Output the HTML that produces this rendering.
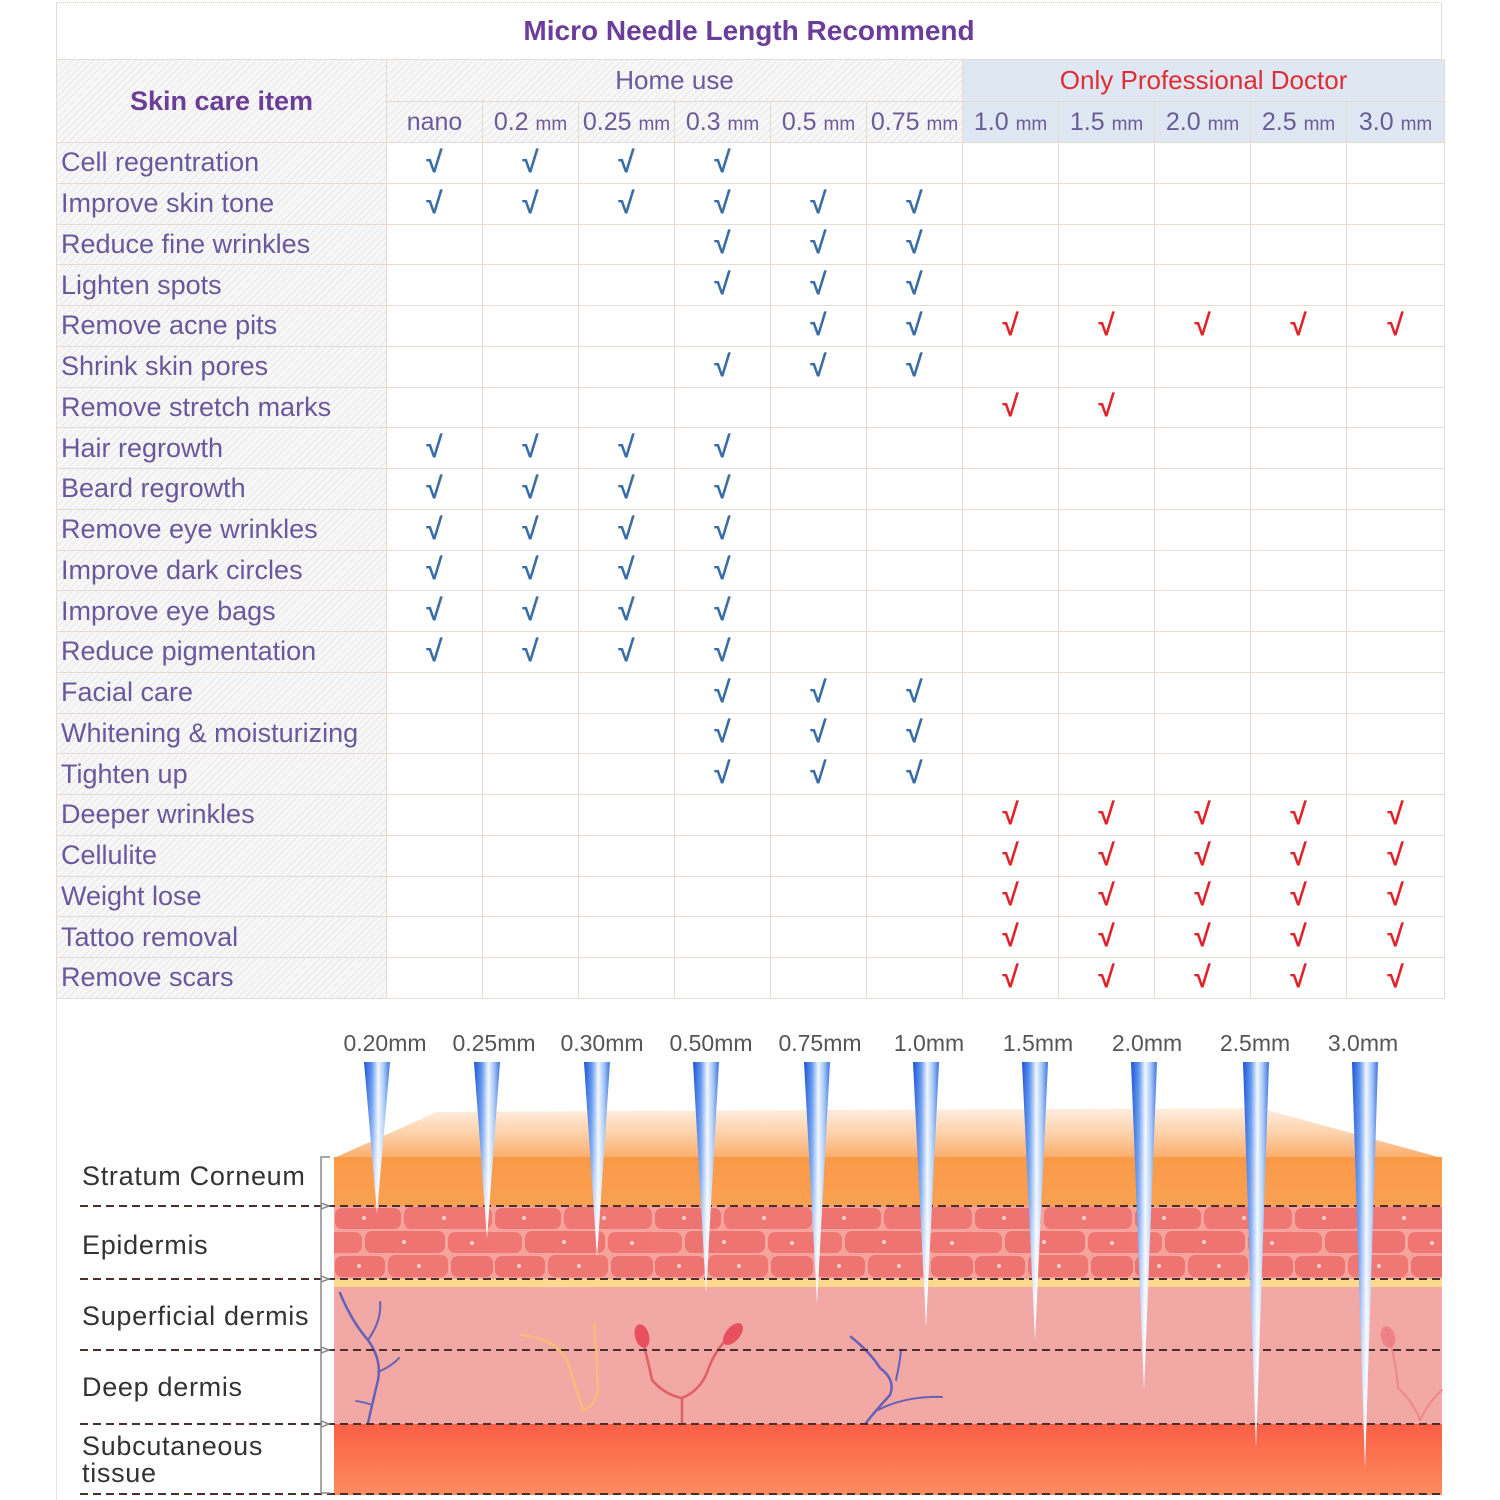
<!DOCTYPE html>
<html><head><meta charset="utf-8">
<style>
html,body{margin:0;padding:0;}
body{width:1500px;height:1500px;position:relative;overflow:hidden;background:#fff;font-family:"Liberation Sans",Arial,sans-serif;}
#title{position:absolute;left:56px;top:2px;width:1386px;height:57px;border-top:1px dotted #ddd0c4;border-left:1px solid #e6dbd2;border-right:1px solid #e6dbd2;text-align:center;line-height:56px;font-weight:bold;font-size:28px;color:#6a3d9a;box-sizing:border-box;}
table{position:absolute;left:56px;top:59px;width:1388px;border-collapse:collapse;table-layout:fixed;}
td{border:1px solid #e8dace;padding:0;text-align:center;vertical-align:middle;white-space:nowrap;overflow:hidden;}
.h{background-color:#f7f7f7;background-image:repeating-linear-gradient(135deg,#e9e9e9 0 1px,transparent 1px 5px);}
.p{background:#dfe8f2;}
.l{text-align:left;padding-left:4px;font-size:27px;color:#6a589c;}
.sk{font-size:27px;font-weight:bold;color:#6b3d98;}
.hu{font-size:26px;color:#6a5a9c;}
.pd{font-size:26px;color:#df2c35;}
.n{font-size:25px;color:#6a5a9c;}
.n small{font-size:19px;}
tr.d{height:40.76px;}
.b,.r{font-style:normal;font-size:30px;font-family:"Liberation Sans",sans-serif;font-weight:bold;}
.b{color:#3a6da6;}
.r{color:#e0222a;}
svg{position:absolute;left:0;top:0;}
</style></head>
<body>
<svg width="1500" height="1500" viewBox="0 0 1500 1500">
<defs>
<linearGradient id="tf" x1="0" y1="1106" x2="0" y2="1158" gradientUnits="userSpaceOnUse">
<stop offset="0" stop-color="#fff1e4"/><stop offset="0.5" stop-color="#fdd3ad"/><stop offset="1" stop-color="#fbae6c"/></linearGradient>
<linearGradient id="sc" x1="0" y1="0" x2="0" y2="1"><stop offset="0" stop-color="#fa9a48"/><stop offset="1" stop-color="#f9a152"/></linearGradient>
<linearGradient id="sub" x1="0" y1="0" x2="0" y2="1"><stop offset="0" stop-color="#fb5f45"/><stop offset="1" stop-color="#fd8c62"/></linearGradient>
<linearGradient id="ng" x1="0" y1="0" x2="1" y2="0"><stop offset="0" stop-color="#1d52d6"/><stop offset="0.3" stop-color="#5f96ee"/><stop offset="0.55" stop-color="#f2f7ff"/><stop offset="0.78" stop-color="#9ec2f5"/><stop offset="1" stop-color="#3b70df"/></linearGradient>
<linearGradient id="nf" x1="0" y1="0" x2="0" y2="1"><stop offset="0" stop-color="#fff" stop-opacity="0"/><stop offset="0.5" stop-color="#fff" stop-opacity="0.25"/><stop offset="1" stop-color="#fff" stop-opacity="0.85"/></linearGradient>
<pattern id="cells" x="334" y="1206" width="160" height="73" patternUnits="userSpaceOnUse">
<rect width="160" height="73" fill="#f6a49b"/>
<rect x="1" y="2" width="66" height="21" rx="7" fill="#ee7471"/>
<rect x="70" y="1" width="88" height="22" rx="7" fill="#ef7875"/>
<rect x="-10" y="26" width="38" height="21" rx="7" fill="#ef7875"/>
<rect x="31" y="25" width="80" height="22" rx="7" fill="#ee7471"/>
<rect x="114" y="26" width="56" height="21" rx="7" fill="#ef7673"/>
<rect x="1" y="50" width="50" height="21" rx="7" fill="#ee7471"/>
<rect x="54" y="49" width="60" height="22" rx="7" fill="#ef7875"/>
<rect x="117" y="50" width="42" height="21" rx="7" fill="#ee7471"/>
<circle cx="30" cy="12" r="2" fill="#fbd3cf"/><circle cx="110" cy="12" r="2" fill="#fbd3cf"/>
<circle cx="70" cy="36" r="2" fill="#fbd3cf"/><circle cx="138" cy="37" r="2" fill="#fbd3cf"/>
<circle cx="25" cy="60" r="2" fill="#fbd3cf"/><circle cx="85" cy="60" r="2" fill="#fbd3cf"/>
</pattern>
</defs>
<!-- left border line -->
<line x1="56.5" y1="998" x2="56.5" y2="1500" stroke="#e3e3e3" stroke-width="1"/>
<!-- skin -->
<polygon points="334,1158 437,1112 1260,1108 1442,1158" fill="url(#tf)"/>
<rect x="334" y="1157" width="1108" height="49" fill="url(#sc)"/>
<rect x="334" y="1206" width="1108" height="73" fill="url(#cells)"/>
<path d="M334,1279 L1442,1279 L1442,1287 L600,1287 Q500,1286 420,1290 Q380,1288 334,1287 Z" fill="#fcd98b"/>
<rect x="334" y="1287" width="1108" height="137" fill="#f2a8a4"/>
<rect x="334" y="1424" width="1108" height="71" fill="url(#sub)"/>
<!-- vessels -->
<g fill="none" stroke-linecap="round">
<path d="M340,1293 Q352,1322 368,1340 Q382,1360 378,1380 Q372,1405 368,1423" stroke="#6461b8" stroke-width="2.5"/>
<path d="M368,1340 Q382,1320 380,1302" stroke="#6461b8" stroke-width="2"/>
<path d="M378,1372 Q392,1366 399,1358" stroke="#6461b8" stroke-width="2"/>
<path d="M372,1405 Q364,1402 356,1401" stroke="#6461b8" stroke-width="1.8"/>
<path d="M521,1335 Q560,1340 568,1363 Q578,1395 583,1410 Q596,1405 598,1390 Q596,1350 594,1323" stroke="#f8c06c" stroke-width="2.5" opacity="0.8"/>
<path d="M640,1330 Q648,1360 652,1380 Q665,1395 682,1398 L682,1423" stroke="#e45e66" stroke-width="2.5"/>
<path d="M682,1398 Q702,1390 709,1367 Q718,1345 736,1330" stroke="#e45e66" stroke-width="2.5"/>
<path d="M851,1337 Q870,1352 880,1368 Q896,1380 890,1395 Q876,1410 866,1423" stroke="#6461b8" stroke-width="2.5"/>
<path d="M878,1410 Q905,1396 942,1397" stroke="#6461b8" stroke-width="2"/>
<path d="M896,1380 Q900,1362 901,1350" stroke="#6461b8" stroke-width="2"/>
<path d="M1387,1330 Q1396,1360 1398,1388 Q1412,1400 1420,1420" stroke="#e97c80" stroke-width="2" opacity="0.7"/>
<path d="M1420,1420 Q1430,1400 1442,1390" stroke="#e97c80" stroke-width="2" opacity="0.7"/>
</g>
<ellipse cx="642" cy="1336" rx="7" ry="12" fill="#e84f5f" transform="rotate(-15 642 1336)"/>
<ellipse cx="733" cy="1334" rx="7" ry="13" fill="#e84f5f" transform="rotate(40 733 1334)"/>
<ellipse cx="1388" cy="1337" rx="7" ry="11" fill="#ec7b82" opacity="0.8" transform="rotate(-15 1388 1337)"/>
<!-- dashed lines -->
<g stroke="#4a2f2f" stroke-width="2" stroke-dasharray="8,5">
<line x1="80" y1="1206" x2="1442" y2="1206"/>
<line x1="80" y1="1279" x2="1442" y2="1279"/>
<line x1="80" y1="1350" x2="1442" y2="1350"/>
<line x1="80" y1="1424" x2="1442" y2="1424"/>
<line x1="80" y1="1494" x2="1442" y2="1494"/>
</g>
<!-- bracket -->
<g stroke="#8a8a8a" stroke-width="1.5" fill="none">
<path d="M330,1157 L321,1157 L321,1493 L330,1493"/>
<path d="M321,1203 L329,1206 L321,1209"/>
<path d="M321,1276 L329,1279 L321,1282"/>
<path d="M321,1347 L329,1350 L321,1353"/>
<path d="M321,1421 L329,1424 L321,1427"/>
</g>
<!-- needles -->
<g>
<polygon points="364,1062 390,1062 377,1213" fill="url(#ng)"/><polygon points="364,1062 390,1062 377,1213" fill="url(#nf)"/>
<polygon points="474,1062 500,1062 487,1238" fill="url(#ng)"/><polygon points="474,1062 500,1062 487,1238" fill="url(#nf)"/>
<polygon points="584,1062 610,1062 597,1257" fill="url(#ng)"/><polygon points="584,1062 610,1062 597,1257" fill="url(#nf)"/>
<polygon points="693,1062 719,1062 706,1293" fill="url(#ng)"/><polygon points="693,1062 719,1062 706,1293" fill="url(#nf)"/>
<polygon points="804,1062 830,1062 817,1303" fill="url(#ng)"/><polygon points="804,1062 830,1062 817,1303" fill="url(#nf)"/>
<polygon points="913,1062 939,1062 926,1327" fill="url(#ng)"/><polygon points="913,1062 939,1062 926,1327" fill="url(#nf)"/>
<polygon points="1022,1062 1048,1062 1035,1340" fill="url(#ng)"/><polygon points="1022,1062 1048,1062 1035,1340" fill="url(#nf)"/>
<polygon points="1131,1062 1157,1062 1144,1390" fill="url(#ng)"/><polygon points="1131,1062 1157,1062 1144,1390" fill="url(#nf)"/>
<polygon points="1243,1062 1269,1062 1256,1447" fill="url(#ng)"/><polygon points="1243,1062 1269,1062 1256,1447" fill="url(#nf)"/>
<polygon points="1352,1062 1378,1062 1365,1467" fill="url(#ng)"/><polygon points="1352,1062 1378,1062 1365,1467" fill="url(#nf)"/>
</g>
<!-- needle labels -->
<g font-family="Liberation Sans, sans-serif" font-size="23" fill="#555" text-anchor="middle">
<text x="385" y="1051">0.20mm</text>
<text x="494" y="1051">0.25mm</text>
<text x="602" y="1051">0.30mm</text>
<text x="711" y="1051">0.50mm</text>
<text x="820" y="1051">0.75mm</text>
<text x="929" y="1051">1.0mm</text>
<text x="1038" y="1051">1.5mm</text>
<text x="1147" y="1051">2.0mm</text>
<text x="1255" y="1051">2.5mm</text>
<text x="1363" y="1051">3.0mm</text>
</g>
<!-- layer labels -->
<g font-family="Liberation Sans, sans-serif" font-size="27" fill="#333" letter-spacing="0.7">
<text x="82" y="1185">Stratum Corneum</text>
<text x="82" y="1254">Epidermis</text>
<text x="82" y="1325">Superficial dermis</text>
<text x="82" y="1396">Deep dermis</text>
<text x="82" y="1455">Subcutaneous</text>
<text x="82" y="1482">tissue</text>
</g>
</svg>

<div id="title">Micro Needle Length Recommend</div>

<table>
<colgroup><col style="width:330px"><col style="width:96px"><col style="width:96px"><col style="width:96px"><col style="width:96px"><col style="width:96px"><col style="width:96px"><col style="width:96px"><col style="width:96px"><col style="width:96px"><col style="width:96px"><col style="width:98px"></colgroup>
<tr style="height:42px"><td class="h sk" rowspan="2">Skin care item</td><td class="h hu" colspan="6">Home use</td><td class="p pd" colspan="5">Only Professional Doctor</td></tr>
<tr style="height:41px"><td class="h n">nano</td><td class="h n">0.2 <small>mm</small></td><td class="h n">0.25 <small>mm</small></td><td class="h n">0.3 <small>mm</small></td><td class="h n">0.5 <small>mm</small></td><td class="h n">0.75 <small>mm</small></td><td class="p n">1.0 <small>mm</small></td><td class="p n">1.5 <small>mm</small></td><td class="p n">2.0 <small>mm</small></td><td class="p n">2.5 <small>mm</small></td><td class="p n">3.0 <small>mm</small></td></tr>
<tr class="d"><td class="h l">Cell regentration</td><td><i class="b">√</i></td><td><i class="b">√</i></td><td><i class="b">√</i></td><td><i class="b">√</i></td><td></td><td></td><td></td><td></td><td></td><td></td><td></td></tr>
<tr class="d"><td class="h l">Improve skin tone</td><td><i class="b">√</i></td><td><i class="b">√</i></td><td><i class="b">√</i></td><td><i class="b">√</i></td><td><i class="b">√</i></td><td><i class="b">√</i></td><td></td><td></td><td></td><td></td><td></td></tr>
<tr class="d"><td class="h l">Reduce fine wrinkles</td><td></td><td></td><td></td><td><i class="b">√</i></td><td><i class="b">√</i></td><td><i class="b">√</i></td><td></td><td></td><td></td><td></td><td></td></tr>
<tr class="d"><td class="h l">Lighten spots</td><td></td><td></td><td></td><td><i class="b">√</i></td><td><i class="b">√</i></td><td><i class="b">√</i></td><td></td><td></td><td></td><td></td><td></td></tr>
<tr class="d"><td class="h l">Remove acne pits</td><td></td><td></td><td></td><td></td><td><i class="b">√</i></td><td><i class="b">√</i></td><td><i class="r">√</i></td><td><i class="r">√</i></td><td><i class="r">√</i></td><td><i class="r">√</i></td><td><i class="r">√</i></td></tr>
<tr class="d"><td class="h l">Shrink skin pores</td><td></td><td></td><td></td><td><i class="b">√</i></td><td><i class="b">√</i></td><td><i class="b">√</i></td><td></td><td></td><td></td><td></td><td></td></tr>
<tr class="d"><td class="h l">Remove stretch marks</td><td></td><td></td><td></td><td></td><td></td><td></td><td><i class="r">√</i></td><td><i class="r">√</i></td><td></td><td></td><td></td></tr>
<tr class="d"><td class="h l">Hair regrowth</td><td><i class="b">√</i></td><td><i class="b">√</i></td><td><i class="b">√</i></td><td><i class="b">√</i></td><td></td><td></td><td></td><td></td><td></td><td></td><td></td></tr>
<tr class="d"><td class="h l">Beard regrowth</td><td><i class="b">√</i></td><td><i class="b">√</i></td><td><i class="b">√</i></td><td><i class="b">√</i></td><td></td><td></td><td></td><td></td><td></td><td></td><td></td></tr>
<tr class="d"><td class="h l">Remove eye wrinkles</td><td><i class="b">√</i></td><td><i class="b">√</i></td><td><i class="b">√</i></td><td><i class="b">√</i></td><td></td><td></td><td></td><td></td><td></td><td></td><td></td></tr>
<tr class="d"><td class="h l">Improve dark circles</td><td><i class="b">√</i></td><td><i class="b">√</i></td><td><i class="b">√</i></td><td><i class="b">√</i></td><td></td><td></td><td></td><td></td><td></td><td></td><td></td></tr>
<tr class="d"><td class="h l">Improve eye bags</td><td><i class="b">√</i></td><td><i class="b">√</i></td><td><i class="b">√</i></td><td><i class="b">√</i></td><td></td><td></td><td></td><td></td><td></td><td></td><td></td></tr>
<tr class="d"><td class="h l">Reduce pigmentation</td><td><i class="b">√</i></td><td><i class="b">√</i></td><td><i class="b">√</i></td><td><i class="b">√</i></td><td></td><td></td><td></td><td></td><td></td><td></td><td></td></tr>
<tr class="d"><td class="h l">Facial care</td><td></td><td></td><td></td><td><i class="b">√</i></td><td><i class="b">√</i></td><td><i class="b">√</i></td><td></td><td></td><td></td><td></td><td></td></tr>
<tr class="d"><td class="h l">Whitening &amp; moisturizing</td><td></td><td></td><td></td><td><i class="b">√</i></td><td><i class="b">√</i></td><td><i class="b">√</i></td><td></td><td></td><td></td><td></td><td></td></tr>
<tr class="d"><td class="h l">Tighten up</td><td></td><td></td><td></td><td><i class="b">√</i></td><td><i class="b">√</i></td><td><i class="b">√</i></td><td></td><td></td><td></td><td></td><td></td></tr>
<tr class="d"><td class="h l">Deeper wrinkles</td><td></td><td></td><td></td><td></td><td></td><td></td><td><i class="r">√</i></td><td><i class="r">√</i></td><td><i class="r">√</i></td><td><i class="r">√</i></td><td><i class="r">√</i></td></tr>
<tr class="d"><td class="h l">Cellulite</td><td></td><td></td><td></td><td></td><td></td><td></td><td><i class="r">√</i></td><td><i class="r">√</i></td><td><i class="r">√</i></td><td><i class="r">√</i></td><td><i class="r">√</i></td></tr>
<tr class="d"><td class="h l">Weight lose</td><td></td><td></td><td></td><td></td><td></td><td></td><td><i class="r">√</i></td><td><i class="r">√</i></td><td><i class="r">√</i></td><td><i class="r">√</i></td><td><i class="r">√</i></td></tr>
<tr class="d"><td class="h l">Tattoo removal</td><td></td><td></td><td></td><td></td><td></td><td></td><td><i class="r">√</i></td><td><i class="r">√</i></td><td><i class="r">√</i></td><td><i class="r">√</i></td><td><i class="r">√</i></td></tr>
<tr class="d"><td class="h l">Remove scars</td><td></td><td></td><td></td><td></td><td></td><td></td><td><i class="r">√</i></td><td><i class="r">√</i></td><td><i class="r">√</i></td><td><i class="r">√</i></td><td><i class="r">√</i></td></tr>
</table>
</body></html>
